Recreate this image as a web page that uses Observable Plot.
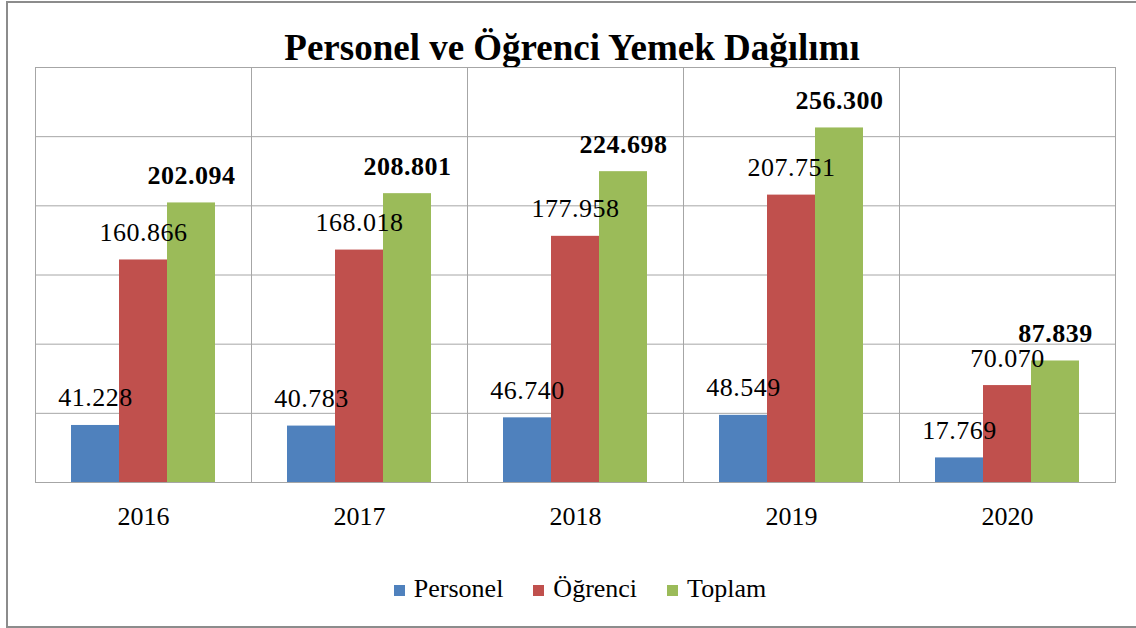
<!DOCTYPE html>
<html><head><meta charset="utf-8">
<script src="https://cdn.jsdelivr.net/npm/d3@7"></script>
<script src="https://cdn.jsdelivr.net/npm/@observablehq/plot@0.6"></script>
<style>
html,body{margin:0;padding:0;overflow:hidden;background:#fff;}
#wrap{position:relative;width:1136px;height:628px;font-family:"Liberation Serif","Times New Roman",serif;color:#000;}
#border{position:absolute;left:6px;top:1px;width:1200px;height:627px;border:2px solid #8c8c8c;border-right:none;box-sizing:border-box;}
#title{position:absolute;top:29px;left:4px;width:1136px;text-align:center;font-weight:bold;font-size:37px;line-height:37px;white-space:nowrap;}
#chart{position:absolute;top:66px;left:0;}
#legend{position:absolute;top:574px;left:12px;width:1136px;display:flex;justify-content:center;font-size:26px;line-height:30px;}
.item{display:flex;align-items:center;margin:0 15px;}
.sw{width:11px;height:11px;margin-right:9px;margin-top:2px;}
.lbl{letter-spacing:0.5px;}
</style></head>
<body>
<div id="wrap">
  <div id="border"></div>
  <div id="title"></div>
  <div id="chart"></div>
  <div id="legend"></div>
</div>
<script>
const titleText = "Personel ve Öğrenci Yemek Dağılımı";
const years = ["2016", "2017", "2018", "2019", "2020"];
const seriesNames = ["Personel", "Öğrenci", "Toplam"];
const seriesColors = ["#4F81BD", "#C0504D", "#9BBB59"];
const personel = [41228, 40783, 46740, 48549, 17769];
const ogrenci = [160866, 168018, 177958, 207751, 70070];
const toplam = [202094, 208801, 224698, 256300, 87839];
const yTicks = [0, 50000, 100000, 150000, 200000, 250000, 300000];

const seriesValues = [personel, ogrenci, toplam];
const rows = [];
years.forEach((y, i) => {
  seriesNames.forEach((s, j) => rows.push({year: y, series: s, value: seriesValues[j][i]}));
});

const fmt = d3.formatLocale({decimal: ",", thousands: ".", grouping: [3], currency: ["", ""]}).format(",d");
const serif = "Liberation Serif";

document.getElementById("title").textContent = titleText;

const chart = Plot.plot({
  width: 1136,
  height: 476,
  marginTop: 1,
  marginBottom: 60,
  marginLeft: 35,
  marginRight: 21,
  style: {fontFamily: serif, fontSize: "26px", background: "transparent", overflow: "visible"},
  fx: {domain: years, padding: 0, label: null},
  x: {domain: seriesNames, paddingInner: 0, paddingOuter: 0.75, axis: null},
  y: {domain: [0, 300000], axis: null},
  color: {domain: seriesNames, range: seriesColors},
  marks: [
    Plot.ruleY(yTicks, {stroke: "#a6a6a6", strokeWidth: 1}),
    Plot.frame({stroke: "#a6a6a6", strokeWidth: 1}),
    Plot.barY(rows, {fx: "year", x: "series", y: "value", fill: "series", inset: 0}),
    Plot.text(rows.filter(d => d.series !== "Toplam"), {fx: "year", x: "series", y: "value", text: d => fmt(d.value), lineAnchor: "bottom", dy: -19, fontSize: 26, fontFamily: serif, fill: "#000", className: "lbl"}),
    Plot.text(rows.filter(d => d.series === "Toplam"), {fx: "year", x: "series", y: "value", text: d => fmt(d.value), lineAnchor: "bottom", dy: -19, fontSize: 26, fontFamily: serif, fontWeight: "bold", fill: "#000", className: "lbl"}),
    Plot.axisFx({anchor: "bottom", tickSize: 0, tickPadding: 24, fontSize: 26, fontFamily: serif, label: null})
  ]
});
document.getElementById("chart").appendChild(chart);

const legend = document.getElementById("legend");
seriesNames.forEach((s, i) => {
  const item = document.createElement("div");
  item.className = "item";
  const sw = document.createElement("div");
  sw.className = "sw";
  sw.style.background = seriesColors[i];
  const t = document.createElement("span");
  t.textContent = s;
  item.appendChild(sw);
  item.appendChild(t);
  legend.appendChild(item);
});
</script>
</body></html>
